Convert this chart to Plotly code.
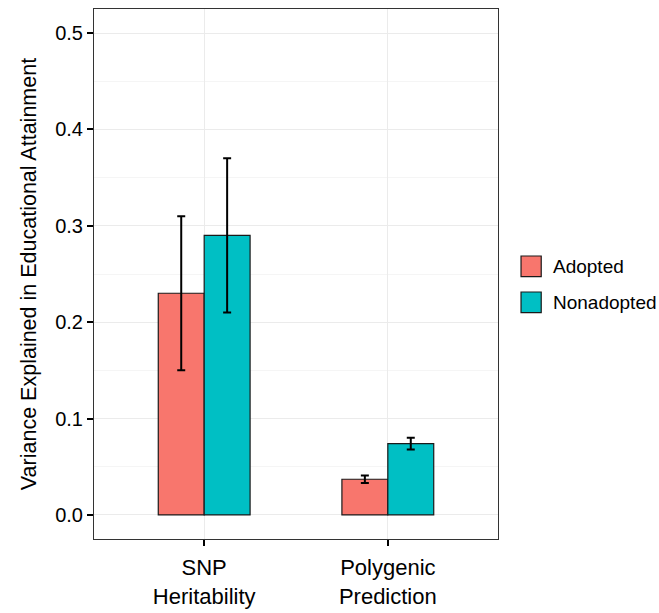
import plotly.graph_objects as go

categories = ["SNP<br>Heritability", "Polygenic<br>Prediction"]
groups = ["Adopted", "Nonadopted"]
colors = ["#F8766D", "#00BFC4"]
adopted = [0.23, 0.037]
adopted_lo = [0.15, 0.033]
adopted_hi = [0.31, 0.041]
nonadopted = [0.29, 0.074]
nonadopted_lo = [0.21, 0.068]
nonadopted_hi = [0.37, 0.080]

FONT = "Liberation Sans, Arial, sans-serif"

fig = go.Figure()
for name, vals, lo, hi, col in [
    ("Adopted", adopted, adopted_lo, adopted_hi, colors[0]),
    ("Nonadopted", nonadopted, nonadopted_lo, nonadopted_hi, colors[1]),
]:
    fig.add_trace(go.Bar(
        x=categories, y=vals, name=name,
        marker=dict(color=col, line=dict(color="#1a1a1a", width=1.2)),
        error_y=dict(type="data", symmetric=False,
                     array=[h - v for h, v in zip(hi, vals)],
                     arrayminus=[v - l for v, l in zip(vals, lo)],
                     color="black", thickness=2, width=4),
        showlegend=False,
    ))

fig.update_layout(
    width=659, height=613,
    margin=dict(l=94, r=161, t=9, b=74, autoexpand=False),
    plot_bgcolor="white", paper_bgcolor="white",
    barmode="group", bargap=0.5, bargroupgap=0,
    font=dict(family=FONT, color="black", size=20),
    xaxis=dict(range=[-0.6, 1.6], showgrid=True, gridcolor="#EBEBEB", gridwidth=1.2,
               ticks="outside", ticklen=6, tickwidth=2, tickcolor="black",
               tickfont=dict(size=22, color="black"), automargin=False,
               ticklabelstandoff=3,
               showline=True, linecolor="#333333", linewidth=1, mirror=True,
               zeroline=False),
    yaxis=dict(range=[-0.025, 0.525], tickvals=[0, 0.1, 0.2, 0.3, 0.4, 0.5],
               ticktext=["0.0", "0.1", "0.2", "0.3", "0.4", "0.5"],
               showgrid=True, gridcolor="#EBEBEB", gridwidth=1.2,
               minor=dict(tickvals=[0.05, 0.15, 0.25, 0.35, 0.45], showgrid=True,
                          gridcolor="#F5F5F5", gridwidth=1),
               ticks="outside", ticklen=6, tickwidth=2, tickcolor="black",
               tickfont=dict(size=20, color="black"), automargin=False,
               showline=True, linecolor="#333333", linewidth=1, mirror=True,
               zeroline=False,
               title=dict(text="Variance Explained in Educational Attainment",
                          font=dict(size=21.5, color="black"), standoff=12)),
)

# legend drawn manually (ggplot-style key boxes)
leg_y = [(0.534, 0.495), (0.466, 0.427)]
for (y1, y0), col, name in zip(leg_y, colors, groups):
    fig.add_shape(type="rect", xref="paper", yref="paper",
                  x0=1.057, x1=1.107, y0=y0, y1=y1,
                  fillcolor=col, line=dict(color="#1a1a1a", width=1.2))
    fig.add_annotation(xref="paper", yref="paper", x=1.132, y=(y0 + y1) / 2,
                       text=name, showarrow=False, xanchor="left", yanchor="middle",
                       font=dict(size=19, color="black", family=FONT))

fig.write_html("out.html")
